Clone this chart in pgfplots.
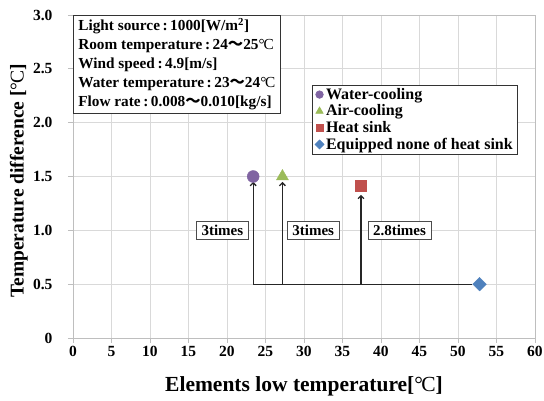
\documentclass[border=0pt]{standalone}
\usepackage{fontspec}
\setmainfont{Liberation Serif}
\newfontfamily\cjk{Noto Sans CJK JP}
\usepackage{pgfplots}
\pgfplotsset{compat=1.18}
\usetikzlibrary{arrows.meta}
\definecolor{wc}{RGB}{128,100,162}
\definecolor{ac}{RGB}{155,187,89}
\definecolor{hs}{RGB}{192,80,77}
\definecolor{ne}{RGB}{79,129,189}
\definecolor{gridc}{RGB}{217,217,217}
\definecolor{axc}{RGB}{190,190,190}
\newcommand{\degC}{{\mdseries\textdegree\kern-0.08em C}}
\newcommand{\wave}{{\cjk ～}}
\pgfplotsset{myleg/.style={legend image code/.code={\draw[##1, mark size=#1] plot coordinates {(0pt,0pt)};}}}
\begin{document}
\begin{tikzpicture}
\useasboundingbox (-73pt,-63pt) rectangle (471pt,338pt);
\begin{axis}[
  scale only axis, width=462pt, height=323pt,
  xmin=0, xmax=60, ymin=0, ymax=3,
  xtick={0,5,...,60}, ytick={0,0.5,1,1.5,2,2.5,3},
  yticklabels={0,0.5,1.0,1.5,2.0,2.5,3.0},
  grid=major, major grid style={gridc, line width=0.8pt},
  axis line style={axc, line width=0.8pt},
  tick align=outside, xtick pos=bottom, ytick pos=left,
  major tick length=5pt, tick style={axc, line width=0.8pt},
  /pgf/number format/assume math mode=true,
  ticklabel style={font=\fontsize{15.5}{18}\selectfont\bfseries},
  yticklabel style={xshift=-12pt},
  xlabel={Elements low temperature[\degC]},
  ylabel={Temperature difference [\degC]},
  xlabel style={at={(axis description cs:0.5,-0.149)}, anchor=center, font=\fontsize{21.5}{24}\selectfont\bfseries},
  ylabel style={at={(axis description cs:-0.117,0.486)}, anchor=center, font=\fontsize{19.5}{22}\selectfont\bfseries},
  legend style={at={(axis cs:31,2.35)}, anchor=north west, draw=black!80, line width=0.6pt,
    font=\fontsize{16}{19}\selectfont\bfseries, inner xsep=3pt, inner ysep=1pt,
    row sep=0pt, legend cell align=left},
]
\addplot[black!85, line width=1.3pt, forget plot] coordinates {(23.4,0.5) (51.8,0.5)};
\addplot[black!85, line width=1.3pt, -{Straight Barb[length=3pt,width=6pt]}, forget plot] coordinates {(23.4,0.5) (23.4,1.45)};
\addplot[black!85, line width=1.3pt, -{Straight Barb[length=3pt,width=6pt]}, forget plot] coordinates {(27.2,0.5) (27.2,1.45)};
\addplot[black!85, line width=1.3pt, -{Straight Barb[length=3pt,width=6pt]}, forget plot] coordinates {(37.4,0.5) (37.4,1.33)};
\addplot[only marks, mark=*, draw=wc, fill=wc, mark size=6pt, myleg=3.8pt] coordinates {(23.4,1.5)};
\addlegendentry{Water-cooling}
\addplot[only marks, mark=triangle*, draw=ac, fill=ac, mark size=7pt, myleg=4.2pt] coordinates {(27.2,1.5)};
\addlegendentry{Air-cooling}
\addplot[only marks, mark=square*, draw=hs, fill=hs, mark size=5.5pt, myleg=3.5pt] coordinates {(37.4,1.41)};
\addlegendentry{Heat sink}
\addplot[only marks, mark=square*, mark options={rotate=45}, draw=ne, fill=ne, mark size=4.8pt, myleg=3.2pt] coordinates {(52.8,0.5)};
\addlegendentry{Equipped none of heat sink}
\node[draw=black!80, line width=0.6pt, fill=white, anchor=north west, align=left, inner xsep=5pt, inner ysep=3pt,
  font=\fontsize{15.3}{19}\selectfont\bfseries] at (rel axis cs:0,1)
  {Light source\,:\,1000[W/m\textsuperscript{2}]\\
   Room temperature\,:\,24\wave 25\degC\\
   Wind speed\,:\,4.9[m/s]\\
   Water temperature\,:\,23\wave 24\degC\\
   Flow rate\,:\,0.008\wave 0.010[kg/s]};
\node[draw=black!70, line width=0.6pt, fill=white, font=\fontsize{15}{17}\selectfont\bfseries, inner xsep=5pt, inner ysep=4pt] at (axis cs:19.4,1.0) {3times};
\node[draw=black!70, line width=0.6pt, fill=white, font=\fontsize{15}{17}\selectfont\bfseries, inner xsep=5pt, inner ysep=4pt] at (axis cs:31.2,1.0) {3times};
\node[draw=black!70, line width=0.6pt, fill=white, font=\fontsize{15}{17}\selectfont\bfseries, inner xsep=5pt, inner ysep=4pt] at (axis cs:42.4,1.0) {2.8times};
\end{axis}
\end{tikzpicture}
\end{document}
